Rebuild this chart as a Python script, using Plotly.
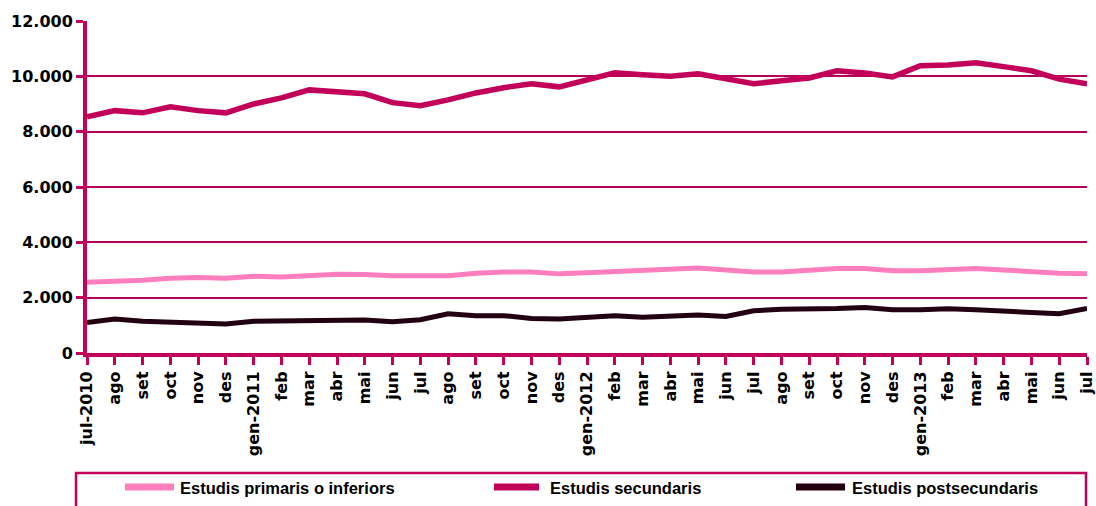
import plotly.graph_objects as go

months = ["jul-2010", "ago", "set", "oct", "nov", "des", "gen-2011", "feb", "mar", "abr", "mai", "jun",
          "jul", "ago", "set", "oct", "nov", "des", "gen-2012", "feb", "mar", "abr", "mai", "jun",
          "jul", "ago", "set", "oct", "nov", "des", "gen-2013", "feb", "mar", "abr", "mai", "jun", "jul"]

primaris = [2560, 2580, 2630, 2700, 2730, 2700, 2770, 2750, 2820, 2850, 2840, 2790,
            2790, 2790, 2880, 2930, 2930, 2860, 2900, 2950, 2960, 3050, 3070, 3000,
            2930, 2930, 3000, 3050, 3050, 2970, 2970, 3000, 3050, 3000, 2930, 2880, 2860]

secundaris = [8540, 8760, 8680, 8900, 8760, 8680, 9000, 9220, 9510, 9440, 9370, 9050,
              8940, 9150, 9400, 9590, 9730, 9620, 9900, 10130, 10060, 10000, 10090, 9900,
              9730, 9840, 9940, 10200, 10120, 9980, 10380, 10410, 10490, 10350, 10200, 9900, 9730]

postsecundaris = [1100, 1225, 1150, 1130, 1100, 1045, 1150, 1150, 1180, 1190, 1190, 1130,
                  1200, 1420, 1350, 1350, 1250, 1225, 1300, 1350, 1290, 1350, 1370, 1320,
                  1525, 1585, 1585, 1610, 1645, 1560, 1560, 1600, 1560, 1490, 1465, 1420, 1610]

series_names = ["Estudis primaris o inferiors", "Estudis secundaris", "Estudis postsecundaris"]
series_colors = ["#FF7FBE", "#C2005A", "#220010"]
series_widths = [5, 5.5, 5]
axis_color = "#C2005A"
grid_color = "#B4005A"

x_idx = list(range(len(months)))

W, H = 1096, 506
L, R, T, B = 87, 9, 21, 153
PW, PH = W - L - R, H - T - B


def px_x(x):
    return (x - L) / PW


def px_y(y):
    return (H - B - y) / PH


fig = go.Figure()
for name, vals, col, lw in zip(series_names, [primaris, secundaris, postsecundaris],
                               series_colors, series_widths):
    fig.add_trace(go.Scatter(x=x_idx, y=vals, mode="lines", name=name,
                             line=dict(color=col, width=lw), showlegend=False))

tick_font = dict(family="DejaVu Sans", size=16, color="black", weight="bold")

fig.update_layout(
    width=W, height=H,
    margin=dict(l=L, r=R, t=T, b=B, pad=0),
    plot_bgcolor="white", paper_bgcolor="white",
    separators=",.",
    xaxis=dict(range=[0, len(months) - 1], tickmode="array", tickvals=x_idx, ticktext=months,
               tickangle=-90, showgrid=False, zeroline=False, showline=True,
               linecolor=axis_color, linewidth=4, ticks="outside", ticklen=8, tickwidth=3,
               tickcolor=axis_color, tickfont=tick_font, automargin=False,
               ticklabeloverflow="allow"),
    yaxis=dict(range=[0, 12000], dtick=2000, tickformat=",.0f", showgrid=True,
               gridcolor=grid_color, gridwidth=2, zeroline=False, showline=True,
               linecolor=axis_color, linewidth=4, ticks="outside", ticklen=7, tickwidth=3,
               tickcolor=axis_color, tickfont=tick_font, automargin=False,
               ticklabeloverflow="allow"),
    font=dict(family="DejaVu Sans", color="black"),
)

# Boxed legend below the plot
shapes = [dict(type="rect", xref="paper", yref="paper",
               x0=px_x(76), x1=px_x(1086), y0=px_y(473), y1=px_y(540),
               line=dict(color=axis_color, width=2.5), fillcolor="rgba(0,0,0,0)")]
sym_pos = [(122, 177), (491, 542), (793, 848)]
text_pos = [178, 548, 850]
annotations = []
for (sx0, sx1), tx, name, col in zip(sym_pos, text_pos, series_names, series_colors):
    shapes.append(dict(type="line", xref="paper", yref="paper",
                       x0=px_x(sx0 + 3), x1=px_x(sx1 - 3), y0=px_y(487), y1=px_y(487),
                       line=dict(color=col, width=7)))
    annotations.append(dict(xref="paper", yref="paper", x=px_x(tx), y=px_y(488),
                            xanchor="left", yanchor="middle", showarrow=False, text=name,
                            font=dict(family="Liberation Sans", size=16.5, color="black",
                                      weight="bold")))

fig.update_layout(shapes=shapes, annotations=annotations)

fig.write_html("out.html", config={"displayModeBar": False},
               post_script="document.body.style.margin='0';document.body.style.padding='0';")
